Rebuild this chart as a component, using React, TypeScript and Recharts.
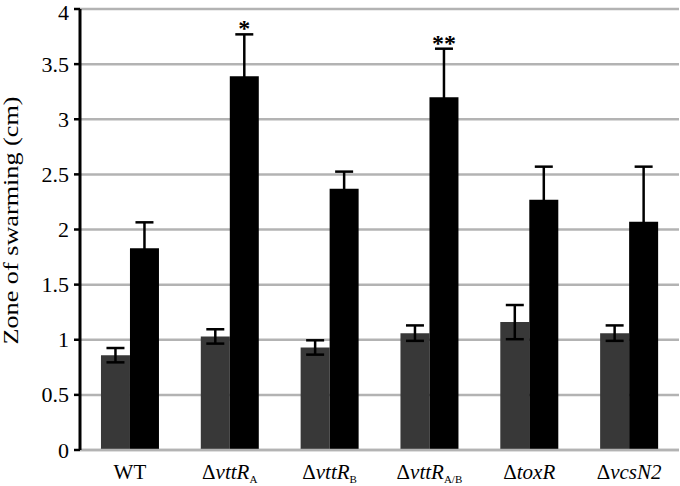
import React from 'react';
import { BarChart, Bar, XAxis, YAxis, CartesianGrid, ErrorBar, LabelList } from 'recharts';

const categories = ['WT', 'ΔvttR_A', 'ΔvttR_B', 'ΔvttR_A/B', 'ΔtoxR', 'ΔvcsN2'];
const grayValues = [0.86, 1.03, 0.93, 1.06, 1.16, 1.06];
const grayErrors = [0.065, 0.065, 0.065, 0.07, 0.155, 0.07];
const blackValues = [1.83, 3.39, 2.37, 3.2, 2.27, 2.07];
const blackErrors = [0.235, 0.38, 0.155, 0.44, 0.3, 0.5];
const stars = ['', '*', '', '**', '', ''];
const yTicks = [0, 0.5, 1, 1.5, 2, 2.5, 3, 3.5, 4];
const yTitle = 'Zone of swarming (cm)';

const data = categories.map((c, i) => ({
  name: c,
  gray: grayValues[i],
  grayErr: grayErrors[i],
  black: blackValues[i],
  blackErr: [0.02, blackErrors[i]],
  star: stars[i],
}));

const FONT = '"Liberation Serif", "DejaVu Serif", serif';

const XTick = (props: any) => {
  const { x, y, payload } = props;
  const label: string = payload.value;
  const ty = y + 21;
  if (!label.startsWith('Δ')) {
    return (
      <text x={x} y={ty} textAnchor="middle" fontFamily={FONT} fontSize={21} fill="#000">
        {label}
      </text>
    );
  }
  const rest = label.slice(1);
  const [main, sub] = rest.split('_');
  return (
    <text x={x} y={ty} textAnchor="middle" fontFamily={FONT} fontSize={21} fill="#000">
      <tspan>Δ</tspan>
      <tspan fontStyle="italic">{main}</tspan>
      {sub ? (
        <tspan fontSize={11} dy={4}>{sub}</tspan>
      ) : null}
    </text>
  );
};

const YTick = (props: any) => {
  const { x, y, payload } = props;
  const shift = y < 20 ? 3 : 0;
  return (
    <text x={x - 3} y={y + shift} dy={7.5} textAnchor="end" fontFamily={FONT} fontSize={22} fill="#000">
      {String(payload.value)}
    </text>
  );
};

const YLabel = (props: any) => {
  const vb = props.viewBox || {};
  const cy = (vb.y ?? 9) + (vb.height ?? 441) / 2 - 9;
  return (
    <text
      x={0}
      y={0}
      transform={`translate(18, ${cy}) rotate(-90)`}
      textAnchor="middle"
      fontFamily={FONT}
      fontSize={20}
      textLength={248}
      lengthAdjust="spacingAndGlyphs"
      fill="#000"
    >
      {yTitle}
    </text>
  );
};

const StarLabel = (props: any) => {
  const { x, y, width, height, value, index } = props;
  if (!value) return null;
  const v = blackValues[index];
  const err = blackErrors[index];
  const pxPerUnit = height / v;
  const topY = y - err * pxPerUnit;
  return (
    <text x={x + width / 2} y={topY + 2} textAnchor="middle" fontFamily={FONT} fontSize={24} fontWeight="bold" fill="#000">
      {value}
    </text>
  );
};

export default function App() {
  return (
    <div style={{ position: 'absolute', left: 0, top: 0, width: 680, height: 486, background: '#fff' }}>
      <BarChart
        width={680}
        height={486}
        data={data}
        margin={{ top: 9, right: 1, bottom: 0, left: 0 }}
        barCategoryGap="21%"
        barGap={0}
      >
        <CartesianGrid vertical={false} stroke="#b3b3b3" strokeWidth={2.5} />
        <XAxis
          dataKey="name"
          height={36}
          axisLine={{ stroke: '#b3b3b3', strokeWidth: 2.5 }}
          tickLine={false}
          tick={<XTick />}
          interval={0}
        />
        <YAxis
          width={80}
          domain={[0, 4]}
          ticks={yTicks}
          axisLine={{ stroke: '#000', strokeWidth: 3 }}
          tickLine={{ stroke: '#000', strokeWidth: 2.5 }}
          tickSize={6}
          tick={<YTick />}
          label={<YLabel />}
        />
        <Bar dataKey="gray" fill="#383838" isAnimationActive={false}>
          <ErrorBar dataKey="grayErr" width={9} strokeWidth={2.5} stroke="#000" direction="y" />
        </Bar>
        <Bar dataKey="black" fill="#000" isAnimationActive={false}>
          <ErrorBar dataKey="blackErr" width={9} strokeWidth={2.5} stroke="#000" direction="y" />
          <LabelList dataKey="star" content={<StarLabel />} />
        </Bar>
      </BarChart>
    </div>
  );
}
